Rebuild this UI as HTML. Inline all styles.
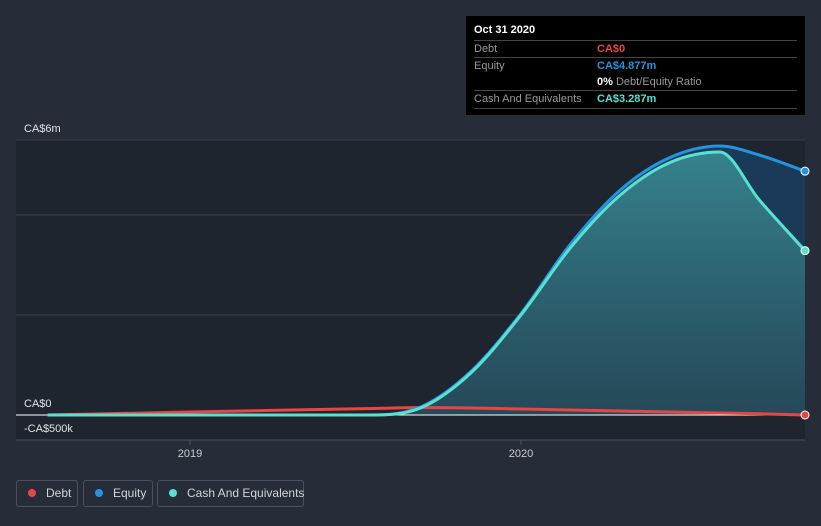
<!DOCTYPE html>
<html><head><meta charset="utf-8"><style>
body{margin:0;width:821px;height:526px;background:#262d38;font-family:"Liberation Sans",sans-serif;overflow:hidden;position:relative}
.lg{position:absolute;top:480px;border:1px solid #4a5260;border-radius:3px;color:#d0d4da;font-size:12px;line-height:25px;box-sizing:border-box;height:27px;white-space:nowrap}
.dot{display:inline-block;width:8px;height:8px;border-radius:50%;margin:0 10px 0 11px;vertical-align:0}
.tt{position:absolute;left:466px;top:16px;width:339px;height:99px;background:#000;color:#999;font-size:11px}
.row{position:absolute;left:8px;right:8px;border-top:1px solid #444;height:17px;line-height:17px}
</style></head><body>
<svg width="821" height="526" style="position:absolute;left:0;top:0">
<defs><linearGradient id="cg" x1="0" y1="0" x2="0" y2="1"><stop offset="0" stop-color="#3a8f96" stop-opacity="0.85"/><stop offset="1" stop-color="#2a4f5a" stop-opacity="0.7"/></linearGradient></defs>
<rect x="16" y="140" width="789" height="300" fill="#1f252f"/>
<g id="grid"></g><g id="areas"></g><g id="lines"></g><g id="labels"></g>
</svg>
<div class="tt">
<div style="position:absolute;left:8px;top:8px;color:#fff;font-weight:bold">Oct 31 2020</div>
<div class="row" style="top:24px">Debt<span style="position:absolute;left:123px;color:#e84545;font-weight:bold">CA$0</span></div>
<div class="row" style="top:41px">Equity<span style="position:absolute;left:123px;color:#2394df;font-weight:bold">CA$4.877m</span></div>
<div style="position:absolute;left:131px;top:58px;line-height:17px"><b style="color:#fff">0%</b> Debt/Equity Ratio</div>
<div class="row" style="top:74px;border-bottom:1px solid #444">Cash And Equivalents<span style="position:absolute;left:123px;color:#58e1d0;font-weight:bold">CA$3.287m</span></div>
</div>
<div class="lg" style="left:16px;width:62px"><span class="dot" style="background:#e84545"></span>Debt</div>
<div class="lg" style="left:83px;width:70px"><span class="dot" style="background:#2394df"></span>Equity</div>
<div class="lg" style="left:157px;width:147px"><span class="dot" style="background:#58e1d0"></span>Cash And Equivalents</div>
<script>
const times=[2018.57,2019.0,2019.55,2019.7,2019.85,2020.0,2020.15,2020.3,2020.45,2020.6,2020.72,2020.858];
const equity=[0,0,0,0.17,0.88,2.03,3.42,4.5,5.15,5.38,5.2,4.877];
const cash=[0,0,0,0.15,0.85,2.0,3.35,4.4,5.05,5.26,4.3,3.287];
const debt=[0,0.06,0.13,0.15,0.14,0.12,0.1,0.08,0.06,0.04,0.025,0];
const yTicks=[6,0,-0.5];const yTickLabels=["CA$6m","CA$0","-CA$500k"];
const gridVals=[5.5,4,2];
const xTicks=[2019,2020];
const NS="http://www.w3.org/2000/svg";
const X=t=>190+(t-2019)*331, Y=v=>415-v*50;
function mk(tag,at,parent){const e=document.createElementNS(NS,tag);for(const k in at)e.setAttribute(k,at[k]);document.getElementById(parent).appendChild(e);return e;}
function path(vals){const p=times.map((t,i)=>[X(t),Y(vals[i])]);const n=p.length;const s=[],m=[];
for(let i=0;i<n-1;i++)s.push((p[i+1][1]-p[i][1])/(p[i+1][0]-p[i][0]));
m[0]=s[0];m[n-1]=s[n-2];for(let i=1;i<n-1;i++){m[i]=(s[i-1]*s[i]<=0)?0:(s[i-1]+s[i])/2;}
for(let i=0;i<n-1;i++){if(s[i]===0){m[i]=0;m[i+1]=0;continue;}const a=m[i]/s[i],b=m[i+1]/s[i],h=a*a+b*b;if(h>9){const t=3/Math.sqrt(h);m[i]=t*a*s[i];m[i+1]=t*b*s[i];}}
let d="M"+p[0];for(let i=0;i<n-1;i++){const h=(p[i+1][0]-p[i][0])/3;d+=` C${p[i][0]+h},${p[i][1]+m[i]*h} ${p[i+1][0]-h},${p[i+1][1]-m[i+1]*h} ${p[i+1]}`;}return d;}
gridVals.forEach(v=>{const l=mk('line',{x1:16,x2:805,y1:Y(v),y2:Y(v),stroke:'#3a414d','stroke-width':1},'grid');});
const ax=mk('line',{x1:16,x2:805,y1:440,y2:440,stroke:'#4a5260'},'grid');
xTicks.forEach(t=>{const l=mk('line',{x1:X(t),x2:X(t),y1:440,y2:445,stroke:'#4a5260'},'grid');
const tx=mk('text',{x:X(t),y:457,fill:'#c8ccd2','font-size':11,'text-anchor':'middle'},'labels');tx.textContent=t;});
yTicks.forEach((v,i)=>{const y=v==6?132:v==0?407:432;const tx=mk('text',{x:24,y:y,fill:'#e0e3e7','font-size':11},'labels');tx.textContent=yTickLabels[i];});
const x0=X(times[0]),x1=X(times[times.length-1]);
const ea=mk('path',{d:path(equity)+` L${x1},${Y(0)} L${x0},${Y(0)} Z`,fill:'#1b3a57'},'areas');
const ca=mk('path',{d:path(cash)+` L${x1},${Y(0)} L${x0},${Y(0)} Z`,fill:'url(#cg)'},'areas');
const zl=mk('line',{x1:16,x2:805,y1:Y(0),y2:Y(0),stroke:'#fff','stroke-width':1},'lines');
[[debt,'#e84545','debt-line'],[equity,'#2394df','equity-line'],[cash,'#58e1d0','cash-line']].forEach(([v,c,n])=>{const l=mk('path',{d:path(v),fill:'none',stroke:c,'stroke-width':3},'lines');
const d=mk('circle',{cx:x1,cy:Y(v[v.length-1]),r:4,fill:c,stroke:'#fff','stroke-width':1},'lines');});
</script>
</body></html>
